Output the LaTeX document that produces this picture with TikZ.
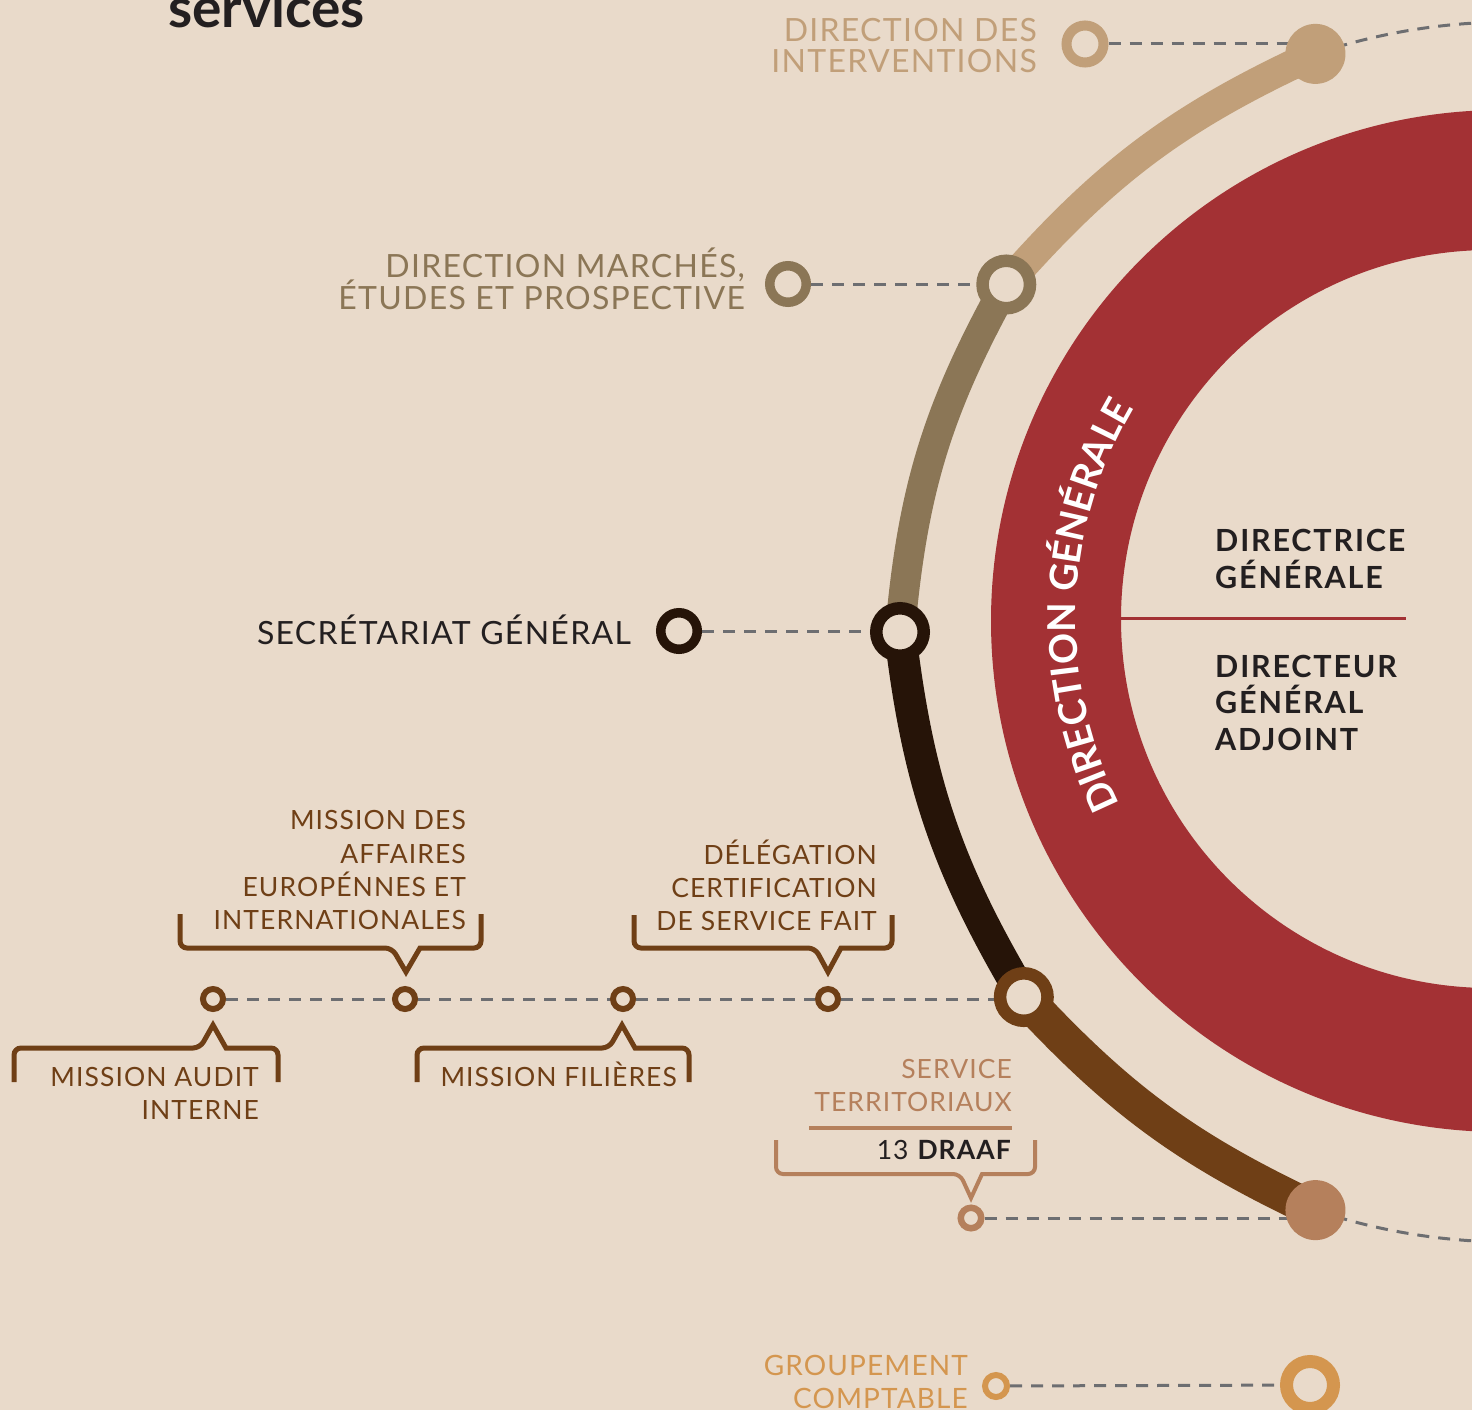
\documentclass[tikz,border=0pt]{standalone}
\usepackage{fontspec}
\setmainfont{Lato}
\newfontfamily\labfont{Lato}[LetterSpace=4]
\newfontfamily\boldfont{Lato}[LetterSpace=6]
\newfontfamily\ringfont{Lato}[LetterSpace=2.5]
\usetikzlibrary{calc,decorations.text}

\definecolor{cBg}{HTML}{E9DACA}
\definecolor{cTan}{HTML}{C19F79}
\definecolor{cBrownA}{HTML}{8B7656}
\definecolor{cDark}{HTML}{261408}
\definecolor{cBrownB}{HTML}{6F3F16}
\definecolor{cPeach}{HTML}{B5805C}
\definecolor{cOrange}{HTML}{D4964F}
\definecolor{cRed}{HTML}{A33134}
\definecolor{cText}{HTML}{231F20}
\definecolor{cDash}{HTML}{6D6E71}

\pgfdeclarelayer{back}
\pgfdeclarelayer{lines}
\pgfsetlayers{back,lines,main}

\tikzset{
  lab/.style={inner sep=0, font=\labfont\fontsize{32}{32}\selectfont},
  labs/.style={inner sep=0, font=\labfont\fontsize{26.5}{26.5}\selectfont},
  labb/.style={inner sep=0, anchor=base west, text=cText,
    font=\boldfont\bfseries\fontsize{30.5}{30.5}\selectfont},
  dashln/.style={draw=cDash, line width=3, dash pattern=on 12 off 9},
  ring/.style={circle, fill=cBg, inner sep=0},
  bigring/.style={ring, line width=12.5, minimum size=47.5},
  midring/.style={ring, line width=9.5, minimum size=36.5},
  smallring/.style={ring, line width=6, minimum size=20},
  endcap/.style={circle, inner sep=0, minimum size=60},
  brk/.style={line width=5, line join=miter},
  track/.style={line width=30},
}

\begin{document}
\begin{tikzpicture}[x=1pt,y=1pt]
\useasboundingbox (0,0) rectangle (1472,-1410);

\begin{pgfonlayer}{back}
  \fill[cBg] (0,0) rectangle (1472,-1410);
  % red ring of the general direction
  \fill[cRed, even odd rule] (1502,-621) circle[radius=511pt]
                             (1490,-619) circle[radius=369pt];
  \draw[cRed, line width=3] (1121,-618) -- (1406,-618);
\end{pgfonlayer}

% curved label on the ring
\path[decorate, decoration={text along path, text align=center, text color=white,
  text={|\ringfont\bfseries\fontsize{38.5}{38.5}\selectfont|DIRECTION GÉNÉRALE}}]
  ($(1490,-619)+(218:414pt)$) arc[start angle=218, end angle=138, radius=414pt];

% centre of the line track
\coordinate (O) at (1510,-632);

% stations on the track
\node[endcap, fill=cTan] (tEnd1) at ($(O)+(108.6:610pt)$) {};
\node[bigring, draw=cBrownA] (tDM) at ($(O)+(145.4:612pt)$) {};
\node[bigring, draw=cDark] (tSG) at ($(O)+(180:610pt)$) {};
\node[bigring, draw=cBrownB] (tST) at ($(O)+(216.9:608pt)$) {};
\node[endcap, fill=cPeach] (tEnd2) at ($(O)+(251.4:610pt)$) {};

% service stops
\node[ring, draw=cTan, line width=10, minimum size=37] (ringDI) at (1085,-44) {};
\node[midring, draw=cBrownA] (ringDM) at (788,-284) {};
\node[midring, draw=cDark] (ringSG) at (679,-631) {};
\node[smallring, draw=cBrownB] (m1) at (213,-999) {};
\node[smallring, draw=cBrownB] (m2) at (405,-999) {};
\node[smallring, draw=cBrownB] (m3) at (623,-999) {};
\node[smallring, draw=cBrownB] (m4) at (828,-999) {};
\node[smallring, draw=cPeach, line width=6.5, minimum size=20.5] (ringST) at (971,-1218) {};
\node[smallring, draw=cOrange, minimum size=22] (ringGC) at (996,-1386) {};
\node[ring, draw=cOrange, line width=13, minimum size=47] (bigGC) at (1310,-1385) {};

\begin{pgfonlayer}{lines}
  % coloured track
  \draw[track, cTan] (tEnd1.center) to[bend right=12] (tDM.center);
  \draw[track, cBrownA] (tDM.center) to[bend right=12] (tSG.center);
  \draw[track, line width=32, cDark] (tSG.center) to[bend right=12] (tST.center);
  \draw[track, line width=36, cBrownB] (tST.center) to[bend right=11] (tEnd2.center);
  % dashed continuation of the circle
  \draw[dashln] (tEnd1.center) arc[start angle=108.6, end angle=86, radius=610pt];
  \draw[dashln] (tEnd2.center) arc[start angle=251.4, end angle=274, radius=610pt];
  % dashed links
  \draw[dashln] (ringDI) -- (ringDI -| tEnd1);
  \draw[dashln] (ringDM) -- (ringDM -| tDM);
  \draw[dashln] (ringSG) -- (ringSG -| tSG);
  \draw[dashln] (m1) -- (m2);
  \draw[dashln] (m2) -- (m3);
  \draw[dashln] (m3) -- (m4);
  \draw[dashln] (m4) -- (m4 -| tST);
  \draw[dashln] (ringST) -- (ringST -| tEnd2);
  \draw[dashln] (ringGC) -- (bigGC);
\end{pgfonlayer}

% title
\node[anchor=base west, inner sep=0, text=cText,
      font=\bfseries\fontsize{55}{55}\selectfont] (title) at (168,-28) {services};

% labels
\node[lab, text=cTan, anchor=base east] (di1) at (1037,-42) {DIRECTION DES};
\node[lab, text=cTan, anchor=base east] (di2) at (1037,-73) {INTERVENTIONS};
\node[lab, text=cBrownA, anchor=base east] (dm1) at (745,-277) {DIRECTION MARCHÉS,};
\node[lab, text=cBrownA, anchor=base east] (dm2) at (745,-309) {ÉTUDES ET PROSPECTIVE};
\node[lab, text=cText, anchor=base east] (sg) at (631,-644) {SECRÉTARIAT GÉNÉRAL};

\node[labs, text=cBrownB, anchor=base east] (ma1) at (466,-829) {MISSION DES};
\node[labs, text=cBrownB, anchor=base east] (ma2) at (466,-863) {AFFAIRES};
\node[labs, text=cBrownB, anchor=base east] (ma3) at (466,-896) {EUROPÉNNES ET};
\node[labs, text=cBrownB, anchor=base east] (ma4) at (466,-929) {INTERNATIONALES};
\node[labs, text=cBrownB, anchor=base east] (dc1) at (877,-864) {DÉLÉGATION};
\node[labs, text=cBrownB, anchor=base east] (dc2) at (877,-897) {CERTIFICATION};
\node[labs, text=cBrownB, anchor=base east] (dc3) at (877,-930) {DE SERVICE FAIT};
\node[labs, text=cBrownB, anchor=base east] (au1) at (259,-1086) {MISSION AUDIT};
\node[labs, text=cBrownB, anchor=base east] (au2) at (259,-1119) {INTERNE};
\node[labs, text=cBrownB, anchor=base east] (mf) at (677,-1086) {MISSION FILIÈRES};

\node[labs, text=cPeach, anchor=base east] (st1) at (1012,-1078) {SERVICE};
\node[labs, text=cPeach, anchor=base east] (st2) at (1012,-1111) {TERRITORIAUX};
\draw[cPeach, line width=3.5] (809,-1128) -- (1012,-1128);
\node[labs, text=cText, anchor=base east] (draaf) at (1012,-1159) {13 \textbf{DRAAF}};

\node[labs, text=cOrange, anchor=base east, font=\labfont\fontsize{28}{28}\selectfont] (gc1) at (968,-1375) {GROUPEMENT};
\node[labs, text=cOrange, anchor=base east, font=\labfont\fontsize{28}{28}\selectfont] (gc2) at (968,-1408) {COMPTABLE};

\node[labb] (dg1) at (1215,-551) {DIRECTRICE};
\node[labb] (dg2) at (1215,-588) {GÉNÉRALE};
\node[labb] (dga1) at (1215,-677) {DIRECTEUR};
\node[labb] (dga2) at (1215,-713) {GÉNÉRAL};
\node[labb] (dga3) at (1215,-750) {ADJOINT};

% callout brackets
\draw[brk, cBrownB] (180,-914) [rounded corners=7] -- (180,-948) -- (392,-948)
  [sharp corners] -- (406,-972) -- (420,-948) [rounded corners=7] -- (481,-948) -- (481,-914);
\draw[brk, cBrownB] (634,-915) [rounded corners=7] -- (634,-948) -- (815,-948)
  [sharp corners] -- (828,-972) -- (841,-948) [rounded corners=7] -- (892,-948) -- (892,-915);
\draw[brk, cBrownB] (14,-1082) [rounded corners=7] -- (14,-1048) -- (200,-1048)
  [sharp corners] -- (213,-1025) -- (226,-1048) [rounded corners=7] -- (278,-1048) -- (278,-1082);
\draw[brk, cBrownB] (417,-1082) [rounded corners=7] -- (417,-1048) -- (609,-1048)
  [sharp corners] -- (622,-1025) -- (635,-1048) [rounded corners=7] -- (689,-1048) -- (689,-1082);
\draw[brk, line width=4, cPeach] (776,-1140) [rounded corners=7] -- (776,-1174) -- (960,-1174)
  [sharp corners] -- (971,-1198) -- (982,-1174) [rounded corners=7] -- (1035,-1174) -- (1035,-1140);
\end{tikzpicture}
\end{document}
